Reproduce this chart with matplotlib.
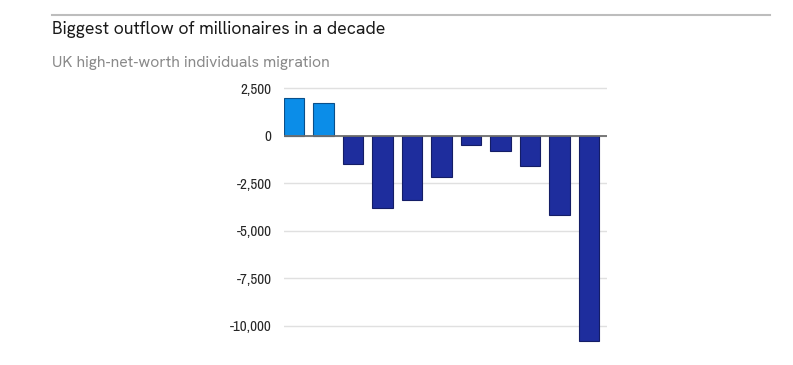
import matplotlib
matplotlib.use("Agg")
import matplotlib.pyplot as plt

# UK high-net-worth individuals migration, one bar per year (approx. read off)
values = [2000, 1700, -1500, -3800, -3400, -2200, -500, -800, -1600, -4200, -10800]
colors = ["#0b8de8", "#0b8de8"] + ["#1e2d9d"] * 9
edges = ["#0a4f8a", "#0a4f8a"] + ["#141d66"] * 9
yticks = [2500, 0, -2500, -5000, -7500, -10000]
ytick_labels = ["2,500", "0", "-2,500", "-5,000", "-7,500", "-10,000"]

head_font = ["Hanken Grotesk", "Inter", "DejaVu Sans"]
tick_font = ["Liberation Sans Narrow", "Archivo Narrow", "DejaVu Sans"]

fig = plt.figure(figsize=(7.93, 3.65), dpi=100)
fig.patch.set_facecolor("white")

# thin rule on top
fig.add_artist(plt.Line2D([52/793, 770/793], [1 - 14.5/365, 1 - 14.5/365],
                          color="#bdbdbd", lw=1.5))
fig.text(52/793, 1 - 30/365, "Biggest outflow of millionaires in a decade",
         fontsize=12.75, color="#1a1a1a", va="center", ha="left", family=head_font)
fig.text(52/793, 1 - 62.5/365, "UK high-net-worth individuals migration",
         fontsize=11.4, color="#8a8a8a", va="center", ha="left", family=head_font)

ax = fig.add_axes([284/793, 1 - 344.5/365, (607 - 284)/793, (344.5 - 86.1)/365])
x = list(range(len(values)))
ax.bar(x, values, width=0.69, color=colors, edgecolor=edges, linewidth=0.8, zorder=3)
ax.set_xlim(-0.345, 10.61)
ax.set_ylim(-11000, 2600)
ax.set_yticks(yticks)
ax.set_yticklabels(ytick_labels, family=tick_font, fontsize=10.8, color="#262626")
ax.set_xticks([])
ax.tick_params(axis="y", length=0, pad=9)
ax.grid(axis="y", color="#e0e0e0", lw=1, zorder=0)
ax.axhline(0, color="#6e6e6e", lw=1.3, zorder=4)
for s in ax.spines.values():
    s.set_visible(False)

fig.savefig("out.png", dpi=100, facecolor="white")
